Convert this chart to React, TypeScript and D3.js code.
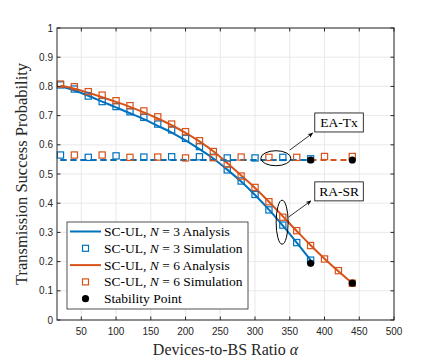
import React from 'react';
import * as d3 from 'd3';

const WIDTH = 436;
const HEIGHT = 360;
const MARGIN = { top: 28, right: 42, bottom: 40, left: 57 };

const BLUE = '#0072BD';
const ORANGE = '#D95319';

// RA-SR, analysis (x every 20 from 20)
const blueAnaX = d3.range(20, 381, 20);
const blueAna = [0.800, 0.786, 0.768, 0.748, 0.728, 0.708, 0.688, 0.665, 0.642, 0.615, 0.585, 0.553, 0.515, 0.474, 0.428, 0.378, 0.323, 0.265, 0.205];
const orangeAnaX = d3.range(20, 441, 20);
const orangeAna = [0.802, 0.792, 0.778, 0.763, 0.747, 0.730, 0.711, 0.690, 0.667, 0.641, 0.612, 0.578, 0.538, 0.495, 0.452, 0.405, 0.355, 0.305, 0.256, 0.210, 0.167, 0.126];

// RA-SR, simulation
const blueSim = [0.805, 0.791, 0.767, 0.748, 0.731, 0.713, 0.694, 0.671, 0.651, 0.622, 0.594, 0.557, 0.514, 0.476, 0.430, 0.377, 0.325, 0.265, 0.205];
const orangeSim = [0.808, 0.799, 0.782, 0.770, 0.751, 0.734, 0.716, 0.696, 0.671, 0.645, 0.614, 0.577, 0.534, 0.493, 0.454, 0.405, 0.352, 0.306, 0.255, 0.209, 0.169, 0.126];

// EA-Tx
const eaLevel = 0.548;
const blueEaX = d3.range(20, 381, 40);
const blueEa = [0.565, 0.557, 0.562, 0.558, 0.559, 0.559, 0.555, 0.555, 0.557, 0.552];
const orangeEaX = d3.range(40, 441, 40);
const orangeEa = [0.565, 0.565, 0.557, 0.558, 0.555, 0.556, 0.558, 0.557, 0.557, 0.560, 0.560];

const stabilityX = [380, 440, 380, 440];
const stabilityY = [0.548, 0.548, 0.194, 0.126];

const xTicks = d3.range(50, 501, 50);
const yTicks = d3.range(0, 1.001, 0.1);

const legendItems = [
  { kind: 'line', color: BLUE, n: '3', what: 'Analysis' },
  { kind: 'square', color: BLUE, n: '3', what: 'Simulation' },
  { kind: 'line', color: ORANGE, n: '6', what: 'Analysis' },
  { kind: 'square', color: ORANGE, n: '6', what: 'Simulation' },
  { kind: 'dot', color: '#000', n: '', what: 'Stability Point' },
];

const App = () => {
  const left = MARGIN.left;
  const right = WIDTH - MARGIN.right;
  const top = MARGIN.top;
  const bottom = HEIGHT - MARGIN.bottom;

  const x = d3.scaleLinear().domain([15, 500]).range([left, right]);
  const y = d3.scaleLinear().domain([0, 1]).range([bottom, top]);

  const line = d3.line<[number, number]>()
    .x(d => x(d[0]))
    .y(d => y(d[1]))
    .curve(d3.curveMonotoneX);

  const zip = (xs: number[], ys: number[]) => xs.map((v, i) => [v, ys[i]] as [number, number]);

  const sq = 6.2;
  const squares = (xs: number[], ys: number[], color: string, key: string) =>
    xs.map((v, i) => (
      <rect key={key + i} x={x(v) - sq / 2} y={y(ys[i]) - sq / 2} width={sq} height={sq}
        fill="none" stroke={color} strokeWidth={1.2} />
    ));

  const serif = '"Liberation Serif", "Times New Roman", serif';
  const sans = '"Liberation Sans", Arial, sans-serif';
  const axisColor = '#262626';

  // annotation anchors in data units
  const eaEll = { cx: x(330), cy: y(0.554) };
  const raEll = { cx: x(339), cy: y(0.335) };

  const legX = 67, legY = 222, legW = 181, legH = 87, rowH = 16.8;

  return (
    <svg width={WIDTH} height={HEIGHT} style={{ position: 'absolute', left: 0, top: 0, background: '#fff' }}>
      <defs>
        <marker id="arr" viewBox="0 0 10 10" refX="9" refY="5" markerWidth="7" markerHeight="7" orient="auto">
          <path d="M0,1 L10,5 L0,9 L3,5 z" fill="#000" />
        </marker>
      </defs>
      <rect x={left} y={top} width={right - left} height={bottom - top} fill="#fff" />
      {/* grid */}
      <g stroke="#e3e3e3" strokeWidth={0.8}>
        {xTicks.map(t => <line key={'gx' + t} x1={x(t)} x2={x(t)} y1={top} y2={bottom} />)}
        {yTicks.map(t => <line key={'gy' + t} x1={left} x2={right} y1={y(t)} y2={y(t)} />)}
      </g>

      {/* EA-Tx dashed */}
      <path d={line([[20, eaLevel], [440, eaLevel]]) || ''} stroke={ORANGE} strokeWidth={2} strokeDasharray="6,4" fill="none" />
      <path d={line([[20, eaLevel], [380, eaLevel]]) || ''} stroke={BLUE} strokeWidth={2} strokeDasharray="6,4" fill="none" />

      {/* RA-SR analysis */}
      <path d={line(zip(blueAnaX, blueAna)) || ''} stroke={BLUE} strokeWidth={2} fill="none" />
      <path d={line(zip(orangeAnaX, orangeAna)) || ''} stroke={ORANGE} strokeWidth={2} fill="none" />

      {squares(blueAnaX, blueSim, BLUE, 'bs')}
      {squares(orangeAnaX, orangeSim, ORANGE, 'os')}
      {squares(blueEaX, blueEa, BLUE, 'be')}
      {squares(orangeEaX, orangeEa, ORANGE, 'oe')}

      {stabilityX.map((v, i) => <circle key={'st' + i} cx={x(v)} cy={y(stabilityY[i])} r={3.6} fill="#000" />)}

      {/* annotations */}
      <ellipse cx={eaEll.cx} cy={eaEll.cy} rx={15} ry={7.5} fill="none" stroke="#000" strokeWidth={1} />
      <line x1={x(350)} y1={y(0.582)} x2={x(383)} y2={y(0.64)} stroke="#000" strokeWidth={0.8} markerEnd="url(#arr)" />
      <rect x={x(386)} y={y(0.709)} width={48.5} height={19} fill="#fff" stroke="#000" strokeWidth={0.8} />
      <text x={x(386) + 24.25} y={y(0.709) + 14} textAnchor="middle" fontFamily={serif} fontSize={13.5}>EA-Tx</text>

      <ellipse cx={raEll.cx} cy={raEll.cy} rx={6} ry={22} fill="none" stroke="#000" strokeWidth={1} />
      <line x1={x(348)} y1={y(0.352)} x2={x(380.5)} y2={y(0.408)} stroke="#000" strokeWidth={0.8} markerEnd="url(#arr)" />
      <rect x={x(386)} y={y(0.473)} width={48.5} height={19} fill="#fff" stroke="#000" strokeWidth={0.8} />
      <text x={x(386) + 24.25} y={y(0.473) + 14} textAnchor="middle" fontFamily={serif} fontSize={13.5}>RA-SR</text>

      {/* axes box */}
      <rect x={left} y={top} width={right - left} height={bottom - top} fill="none" stroke={axisColor} strokeWidth={1} />
      <g stroke={axisColor} strokeWidth={1}>
        {xTicks.map(t => (
          <g key={'tx' + t}>
            <line x1={x(t)} x2={x(t)} y1={bottom} y2={bottom - 3.5} />
            <line x1={x(t)} x2={x(t)} y1={top} y2={top + 3.5} />
          </g>
        ))}
        {yTicks.map(t => (
          <g key={'ty' + t}>
            <line x1={left} x2={left + 3.5} y1={y(t)} y2={y(t)} />
            <line x1={right} x2={right - 3.5} y1={y(t)} y2={y(t)} />
          </g>
        ))}
      </g>
      <g fontFamily={sans} fontSize={10} fill={axisColor}>
        {xTicks.map(t => (
          <text key={'lx' + t} x={x(t)} y={bottom + 15} textAnchor="middle">{t}</text>
        ))}
        {yTicks.map(t => (
          <text key={'ly' + t} x={left - 4} y={y(t) + 3.5} textAnchor="end">{d3.format('~g')(+t.toFixed(1))}</text>
        ))}
      </g>

      <text x={(left + right) / 2} y={HEIGHT - 5} textAnchor="middle" fontFamily={serif} fontSize={16} fill={axisColor}>
        Devices-to-BS Ratio <tspan fontStyle="italic">α</tspan>
      </text>
      <text transform={`translate(${27}, ${(top + bottom) / 2}) rotate(-90)`} textAnchor="middle"
        fontFamily={serif} fontSize={16.5} fill={axisColor}>
        Transmission Success Probability
      </text>

      {/* legend */}
      <rect x={legX} y={legY} width={legW} height={legH} fill="#fff" stroke={axisColor} strokeWidth={0.8} />
      {legendItems.map((it, i) => {
        const cy = legY + 9.5 + i * rowH;
        return (
          <g key={'lg' + i}>
            {it.kind === 'line' && <line x1={70} x2={101} y1={cy} y2={cy} stroke={it.color} strokeWidth={2} />}
            {it.kind === 'square' && <rect x={85.5 - 3} y={cy - 3} width={6} height={6} fill="none" stroke={it.color} strokeWidth={1.2} />}
            {it.kind === 'dot' && <circle cx={85.5} cy={cy} r={3.6} fill="#000" />}
            <text x={104} y={cy + 4.5} fontFamily={serif} fontSize={13.5} fill="#000">
              {it.n ? (
                <>SC-UL, <tspan fontStyle="italic">N</tspan> = {it.n} {it.what}</>
              ) : it.what}
            </text>
          </g>
        );
      })}
    </svg>
  );
};

export default App;
